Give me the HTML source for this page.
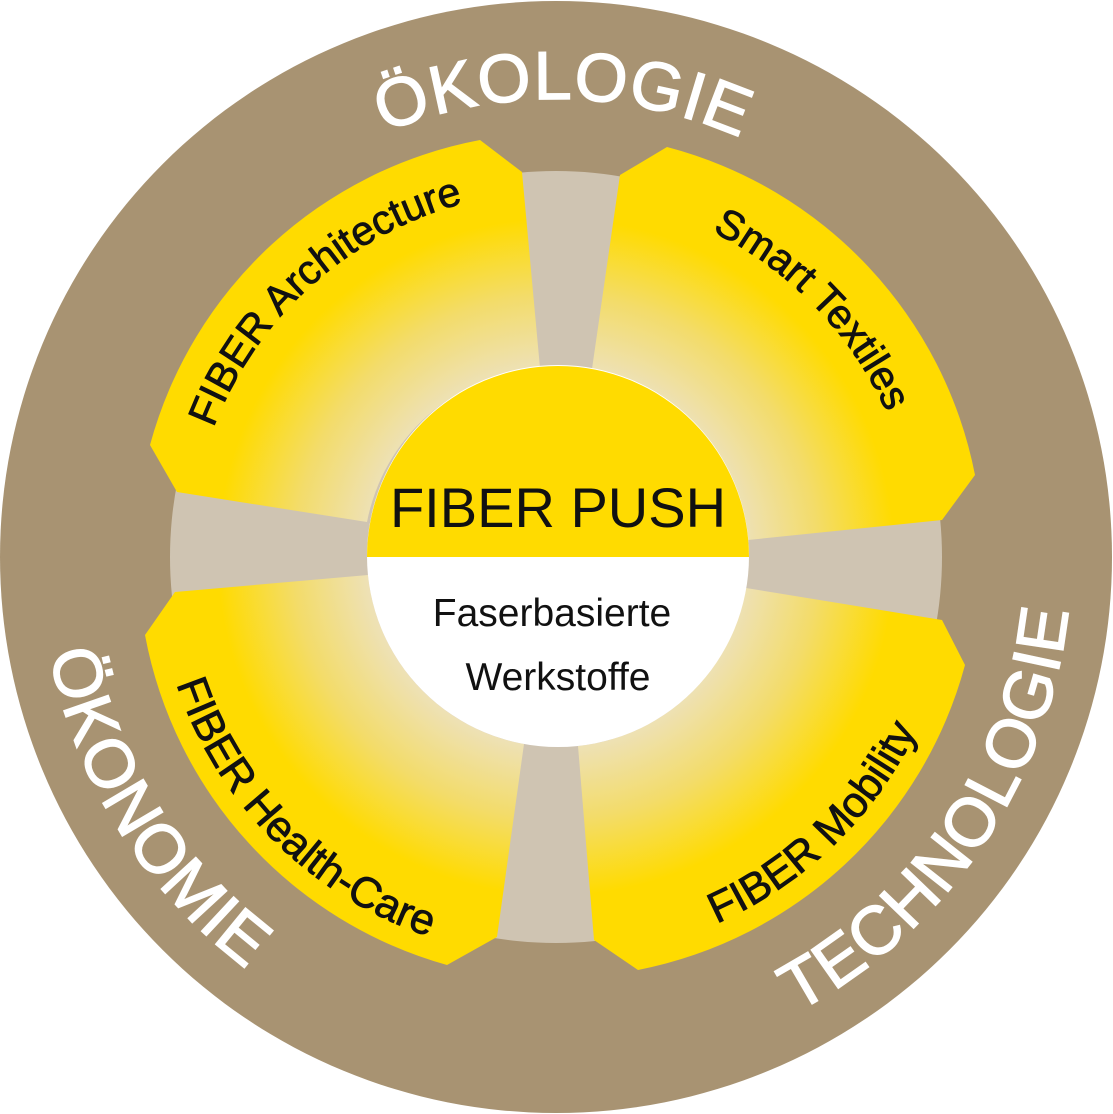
<!DOCTYPE html>
<html><head><meta charset="utf-8"><style>
html,body{margin:0;padding:0;background:#fff;}
svg{display:block;}
text{font-family:"Liberation Sans",sans-serif;}
</style></head><body>
<svg width="1113" height="1114" viewBox="0 0 1113 1114" xmlns="http://www.w3.org/2000/svg">
<defs>
<radialGradient id="g" gradientUnits="userSpaceOnUse" cx="556" cy="557" r="423">
<stop offset="0.42" stop-color="#ede2c2"/>
<stop offset="0.62" stop-color="#f3dc6a"/>
<stop offset="0.8" stop-color="#ffdb00"/>
<stop offset="1" stop-color="#ffdb00"/>
</radialGradient>
<path id="p1" d="M98,557 A458,458 0 0 1 1014,557"/>
<path id="p2" d="M268,984 A515,515 0 0 0 844,130"/>
<path id="p3" d="M283,120 A515,515 0 0 0 829,994"/>
<path id="p4" d="M281,805 A370,370 0 0 1 831,310"/>
<path id="p5" d="M299,291 A370,370 0 0 1 813,823"/>
<path id="p6" d="M273,274 A400,400 0 0 0 839,840"/>
<path id="p7" d="M268,835 A400,400 0 0 0 844,279"/>
</defs>
<circle cx="556" cy="557" r="556" fill="#a89372"/>
<circle cx="556" cy="557" r="386" fill="#cfc4b2"/>
<path fill="url(#g)" d="M150,445 A423,423 0 0 1 480,140 L522,172 L540,368 A191,191 0 0 0 367,522 L177,492 Z"/>
<path fill="url(#g)" d="M667,147 A423,423 0 0 1 975,475 L942,520 L748,540 A191,191 0 0 0 592,369 L620,175 Z"/>
<path fill="url(#g)" d="M965,665 A423,423 0 0 1 638,970 L594,940 L578,746 A191,191 0 0 0 746,588 L942,620 Z"/>
<path fill="url(#g)" d="M447,965 A423,423 0 0 1 145,635 L175,592 L368,575 A191,191 0 0 0 524,744 L497,937 Z"/>
<circle cx="558" cy="556" r="191" fill="#fff"/>
<path d="M367,557 A191,191 0 0 1 749,557 Z" fill="#ffdb00"/>
<text x="558" y="527" text-anchor="middle" font-size="56" fill="#111">FIBER PUSH</text>
<text x="552" y="626" text-anchor="middle" font-size="39" fill="#111">Faserbasierte</text>
<text x="558" y="690" text-anchor="middle" font-size="39" fill="#111">Werkstoffe</text>
<g font-size="68" fill="#fff" stroke="#fff" stroke-width="1.5" letter-spacing="1">
<text><textPath href="#p1" startOffset="50.5%" text-anchor="middle">ÖKOLOGIE</textPath></text>
<text><textPath href="#p2" startOffset="50%" text-anchor="middle">TECHNOLOGIE</textPath></text>
<text><textPath href="#p3" startOffset="50%" text-anchor="middle">ÖKONOMIE</textPath></text>
</g>
<g font-size="41" fill="#111" stroke="#111" stroke-width="0.8">
<text><textPath href="#p4" startOffset="50%" text-anchor="middle">FIBER Architecture</textPath></text>
<text><textPath href="#p5" startOffset="50%" text-anchor="middle">Smart Textiles</textPath></text>
<text font-size="43"><textPath href="#p6" startOffset="50%" text-anchor="middle">FIBER Health-Care</textPath></text>
<text font-size="43"><textPath href="#p7" startOffset="50%" text-anchor="middle">FIBER Mobility</textPath></text>
</g>
</svg>
</body></html>
